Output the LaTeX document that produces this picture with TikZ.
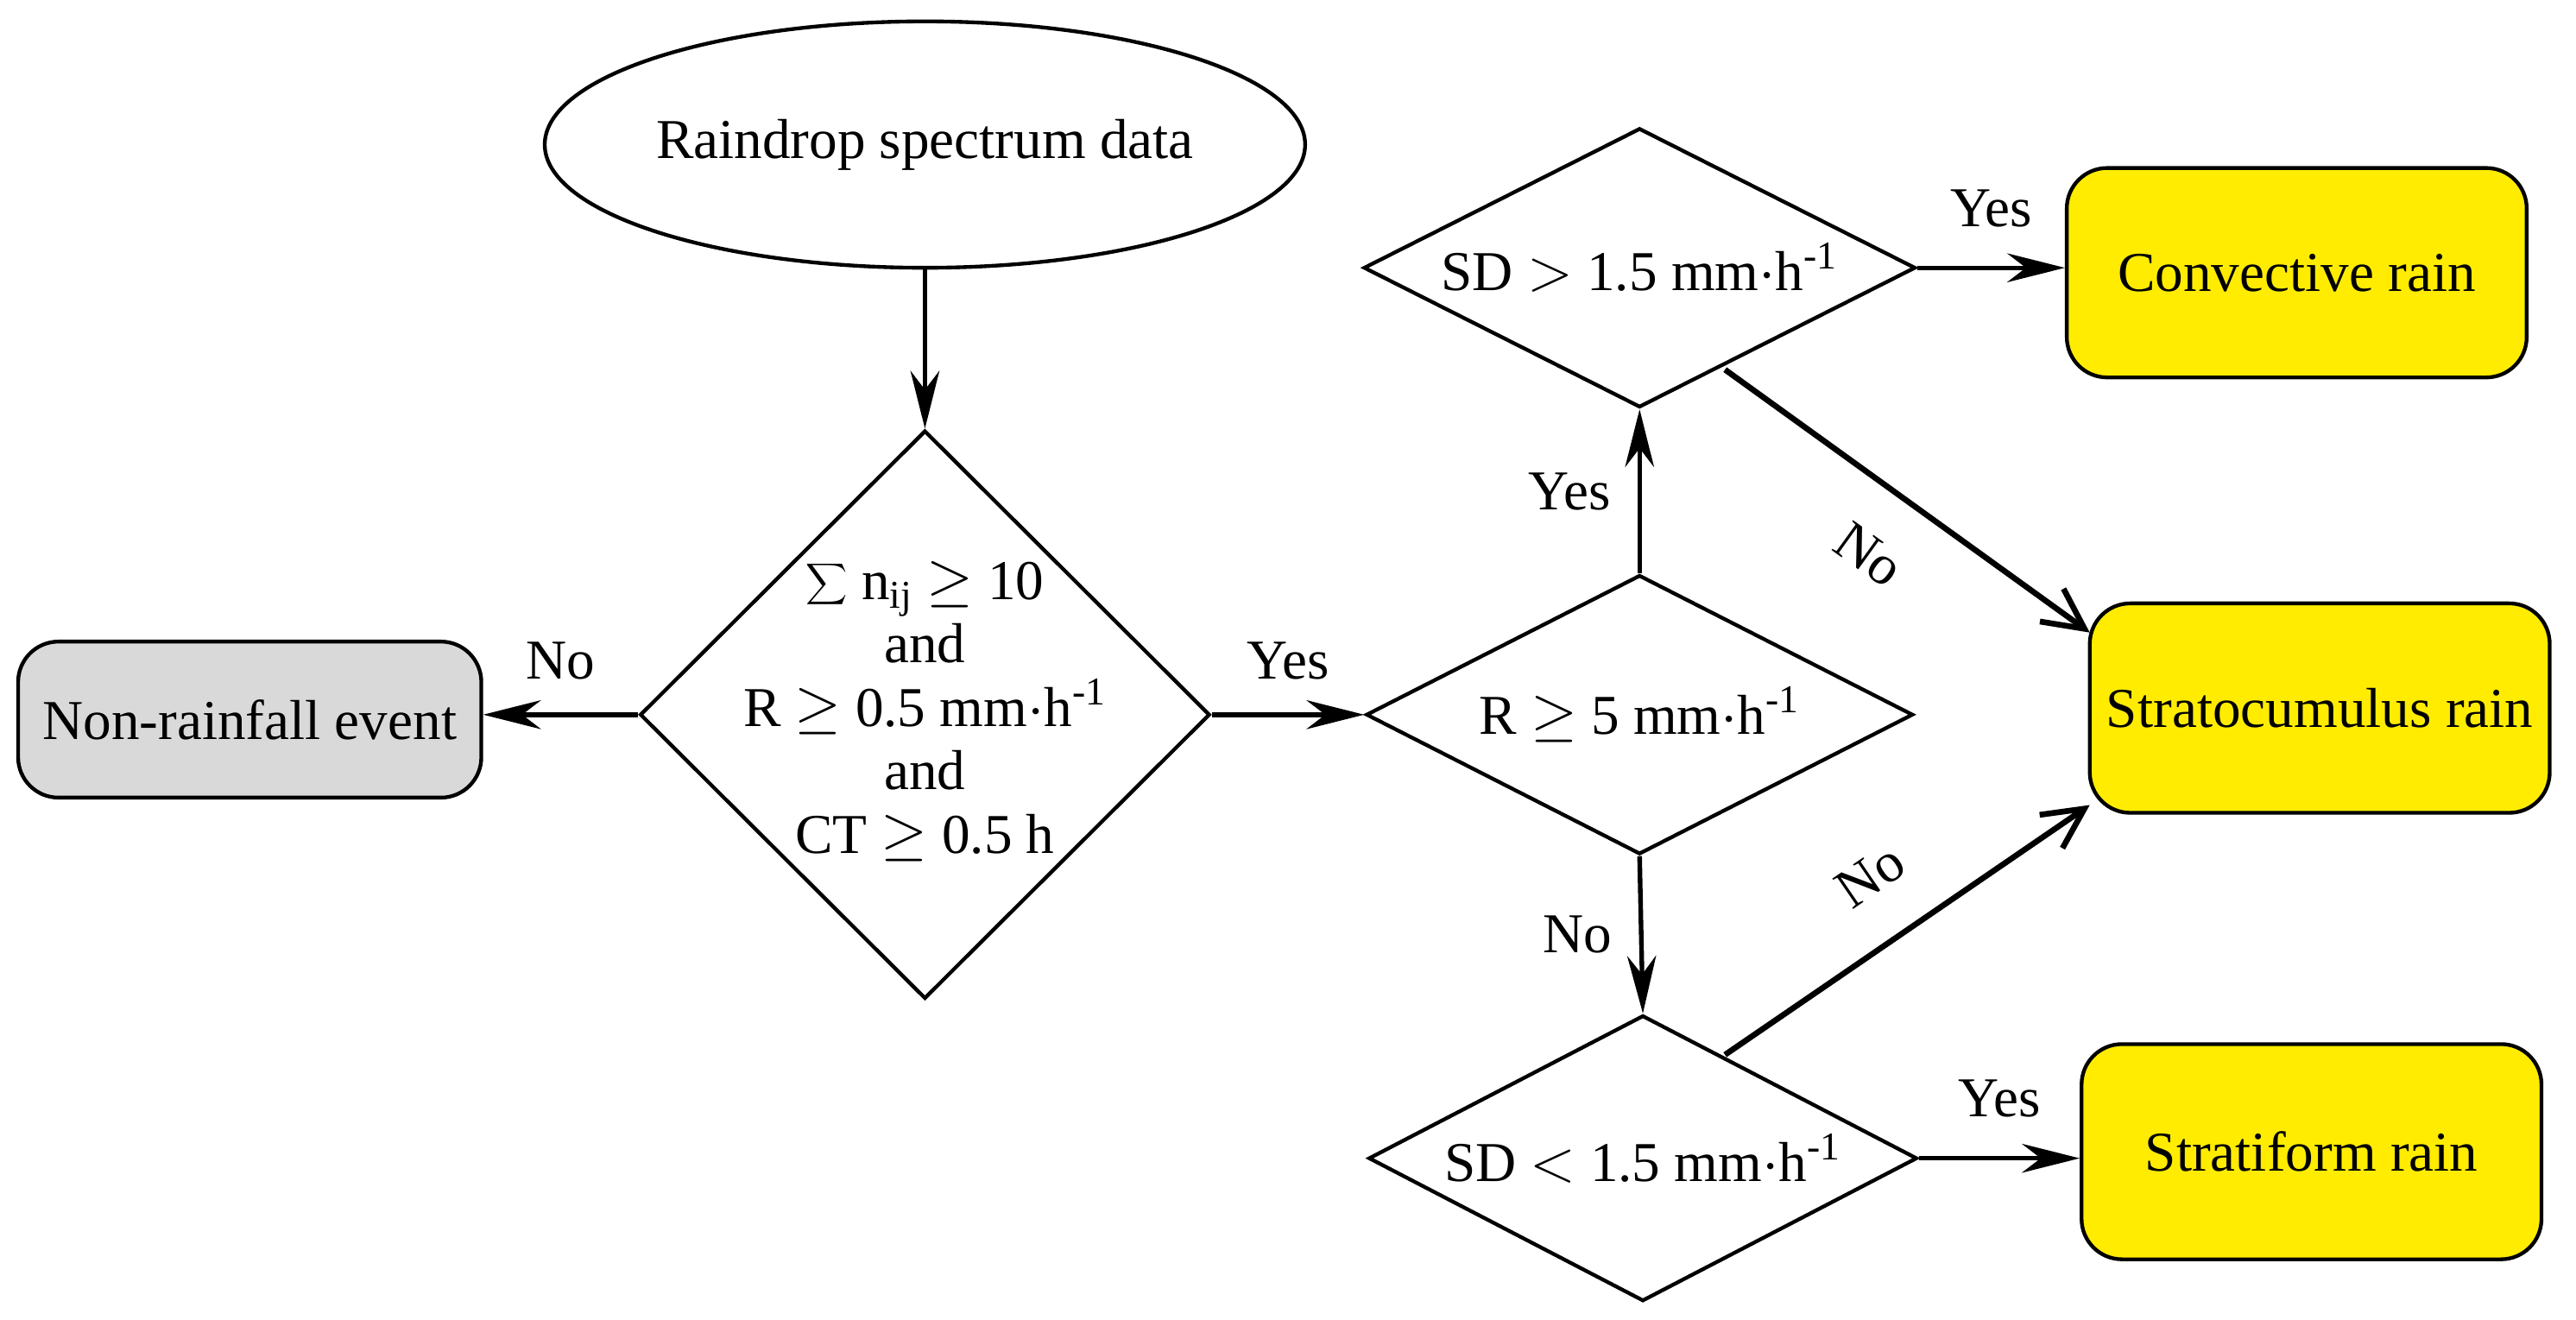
\documentclass[tikz,border=0pt]{standalone}
\usepackage{fontspec}
\setmainfont{Liberation Serif}
\usetikzlibrary{shapes.geometric, arrows.meta, positioning}
\definecolor{rainyellow}{RGB}{255,236,0}
\definecolor{eventgray}{RGB}{217,217,217}
\tikzset{
    decision/.style={diamond, draw, line width=1.3pt, aspect=2, inner sep=0pt},
    process/.style={rectangle, rounded corners=14pt, draw, line width=1.3pt, fill=rainyellow, minimum width=5.6cm, minimum height=2.55cm},
    arrow/.style={line width=1.6pt, -{Stealth[length=20pt, width=10pt]}},
    openarrow/.style={line width=2pt, -{Straight Barb[length=14pt, width=14pt]}}
}
\begin{document}
\begin{tikzpicture}[x=0.02cm, y=-0.02cm,
            every node/.style={text centered, font=\fontsize{19.5}{23}\selectfont}]
            \useasboundingbox (0,0) rectangle (1568,803);
            % Nodes
            \node (data) [ellipse, draw, line width=1.3pt, inner sep=0pt, minimum width=7.2cm, minimum height=3cm] at (563,88) {Raindrop spectrum data};
            \node (check) [decision, aspect=1, minimum width=6.94cm, minimum height=6.92cm] at (563,435) {};
            \node [align=center, font=\fontsize{19.5}{22}\selectfont] at (563,433) {$\displaystyle\sum$ n\textsubscript{ij} $\geq$ 10\\and\\R $\geq$ 0.5 mm$\cdot$h\textsuperscript{-1}\\and\\CT $\geq$ 0.5 h};
            \node (nonrain) [process, fill=eventgray, minimum width=5.64cm, minimum height=1.9cm] at (152,438) {Non-rainfall event};
            \node (rate) [decision, minimum width=6.66cm, minimum height=3.4cm] at (998,435) {R $\geq$ 5 mm$\cdot$h\textsuperscript{-1}};
            \node (sdhigh) [decision, minimum width=6.72cm, minimum height=3.4cm] at (998,163) {SD $>$ 1.5 mm$\cdot$h\textsuperscript{-1}};
            \node (sdlow) [decision, minimum width=6.68cm, minimum height=3.48cm] at (1000,705) {SD $<$ 1.5 mm$\cdot$h\textsuperscript{-1}};
            \node (convective) [process] at (1398,166) {Convective rain};
            \node (stratocumulus) [process] at (1412,431) {Stratocumulus rain};
            \node (stratiform) [process, minimum height=2.62cm] at (1407,701) {Stratiform rain};
            \coordinate (sdhighout) at (1050,225);
            \coordinate (sdlowout) at (1050,642);
            \coordinate (scin1) at (1272,385);
            \coordinate (scin2) at (1272,490);

            % Arrows
            \draw [arrow] (data) -- (check.north);
            \draw [arrow] (check.west) -- node[above=8pt] {No} (check.west -| nonrain.east);
            \draw [arrow] (check.east) -- node[above=8pt] {Yes} (rate.west);
            \draw [arrow] (rate.north) -- node[left=6pt] {Yes} (sdhigh.south);
            \draw [arrow] (rate.south) -- node[left=6pt] {No} (sdlow.north);
            \draw [arrow] (sdhigh.east) -- node[above=10pt] {Yes} (sdhigh.east -| convective.west);
            \draw [arrow] (sdlow.east) -- node[above=10pt] {Yes} (sdlow.east -| stratiform.west);
            \draw [openarrow] (sdhighout) -- node[sloped, below=12pt] {No} (scin1);
            \draw [openarrow] (sdlowout) -- node[sloped, above=12pt] {No} (scin2);
        \end{tikzpicture}
\end{document}
